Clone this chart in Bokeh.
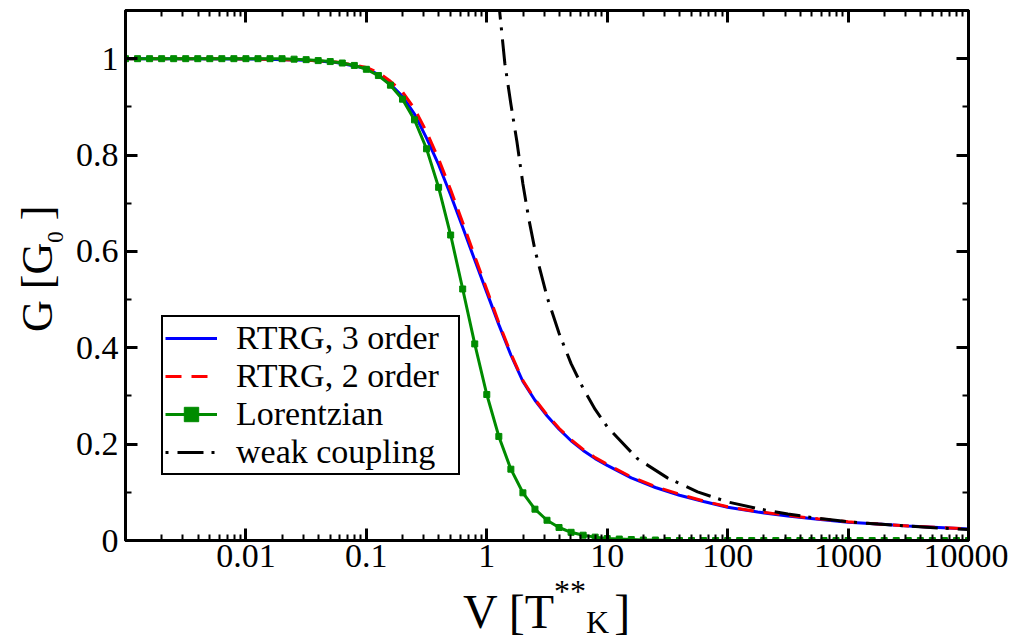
from bokeh.plotting import figure
from bokeh.models import (LogAxis, LinearAxis, FixedTicker, CustomJSTickFormatter,
                          Legend, LegendItem, Range1d, Div)
from bokeh.layouts import row, column
from bokeh.embed import file_html
from bokeh.resources import INLINE

# ---------------- data ----------------
# Lorentzian (green, square markers): log10(V) and G
LOR_LOGV = [-3.0, -2.9, -2.8, -2.7, -2.6, -2.5, -2.4, -2.3, -2.2, -2.1,
            -2.0, -1.9, -1.8, -1.7, -1.6, -1.5, -1.4, -1.3, -1.2, -1.1,
            -1.0, -0.9, -0.8, -0.7, -0.6, -0.5, -0.4, -0.3, -0.2, -0.1,
            0.0, 0.1, 0.2, 0.3, 0.4, 0.5, 0.6, 0.7, 0.8, 0.9,
            1.0, 1.1, 1.2, 1.3, 1.4, 1.5, 1.6, 1.7, 1.8, 1.9,
            2.0, 2.1, 2.2, 2.3, 2.4, 2.5, 2.6, 2.7, 2.8, 2.9,
            3.0, 3.1, 3.2, 3.3, 3.4, 3.5, 3.6, 3.7, 3.8, 3.9, 4.0]
LOR_G = [1.0, 1.0, 1.0, 1.0, 1.0, 1.0, 1.0, 1.0, 1.0, 1.0,
         1.0, 1.0, 1.0, 1.0, 0.999, 0.998, 0.996, 0.994, 0.991, 0.986,
         0.978, 0.965, 0.945, 0.916, 0.873, 0.813, 0.733, 0.634, 0.522, 0.408,
         0.303, 0.216, 0.148, 0.099, 0.065, 0.042, 0.027, 0.017, 0.011, 0.007,
         0.004, 0.003, 0.002, 0.001, 0.001, 0.0, 0.0, 0.0, 0.0, 0.0,
         0.0, 0.0, 0.0, 0.0, 0.0, 0.0, 0.0, 0.0, 0.0, 0.0,
         0.0, 0.0, 0.0, 0.0, 0.0, 0.0, 0.0, 0.0, 0.0, 0.0, 0.0]

# RTRG curves (3rd order: blue solid, 2nd order: red dashed)
RTRG_LOGV = [-3.0, -2.5, -2.0, -1.5, -1.25, -1.0, -0.9, -0.8, -0.7, -0.6,
             -0.5, -0.4, -0.3, -0.2, -0.1, 0.0, 0.1, 0.2, 0.3, 0.4,
             0.5, 0.6, 0.7, 0.8, 0.9, 1.0, 1.2, 1.4, 1.6, 1.8,
             2.0, 2.25, 2.5, 2.75, 3.0, 3.25, 3.5, 3.75, 4.0]
RTRG3_G = [1.0, 1.0, 0.9995, 0.997, 0.992, 0.980, 0.967, 0.947, 0.922, 0.885,
           0.835, 0.780, 0.717, 0.650, 0.582, 0.515, 0.448, 0.385, 0.330, 0.291,
           0.259, 0.231, 0.207, 0.187, 0.170, 0.156, 0.130, 0.110, 0.094, 0.081,
           0.069, 0.059, 0.051, 0.044, 0.038, 0.034, 0.030, 0.027, 0.024]
RTRG2_G = [1.0, 1.0, 0.9995, 0.997, 0.993, 0.982, 0.971, 0.953, 0.931, 0.896,
           0.848, 0.792, 0.728, 0.660, 0.590, 0.521, 0.452, 0.388, 0.332, 0.293,
           0.261, 0.233, 0.209, 0.189, 0.172, 0.158, 0.132, 0.112, 0.096, 0.082,
           0.070, 0.060, 0.052, 0.045, 0.039, 0.034, 0.030, 0.027, 0.024]

# weak coupling (black dash-dot)
WEAK_LOGV = [0.09, 0.106, 0.13, 0.15, 0.2, 0.25, 0.3, 0.35, 0.4, 0.5,
             0.6, 0.7, 0.8, 0.9, 1.0, 1.25, 1.5, 1.75, 2.0, 2.25,
             2.5, 2.75, 3.0, 3.25, 3.5, 3.75, 4.0]
WEAK_G = [1.16, 1.10, 1.04, 0.99, 0.906, 0.828, 0.740, 0.666, 0.603, 0.506,
          0.430, 0.367, 0.316, 0.272, 0.236, 0.170, 0.130, 0.101, 0.080, 0.066,
          0.055, 0.046, 0.039, 0.034, 0.030, 0.026, 0.023]

X_TICKS = [0.01, 0.1, 1, 10, 100, 1000, 10000]
Y_TICKS = [0, 0.2, 0.4, 0.6, 0.8, 1.0]
Y_MINOR = [0.1, 0.3, 0.5, 0.7, 0.9]
LABELS = ["RTRG, 3 order", "RTRG, 2 order", "Lorentzian", "weak coupling"]

def to_v(logs):
    return [10 ** v for v in logs]

X_MINOR = [m * 10.0 ** k for k in range(-3, 4) for m in range(2, 10)]

FONT = "Liberation Serif"
FONT_CSS = "&quot;Liberation Serif&quot;, &quot;Times New Roman&quot;, serif"
BLUE = "#0000ff"
RED = "#ff0000"
GREEN = "#008b00"

p = figure(frame_width=843, frame_height=530,
           x_axis_type="log", x_range=Range1d(0.001, 10000), y_range=Range1d(0, 1.1),
           output_backend="svg", toolbar_location=None,
           min_border_left=59, min_border_right=40, min_border_top=10, min_border_bottom=48)
p.xgrid.visible = False
p.ygrid.visible = False
p.outline_line_color = "black"
p.outline_line_width = 3
p.background_fill_color = "white"
p.border_fill_color = "white"

def style_axis(ax, show_labels):
    ax.axis_line_width = 3
    ax.axis_line_color = "black"
    ax.major_tick_line_width = 3
    ax.minor_tick_line_width = 2
    ax.major_tick_in = 12
    ax.major_tick_out = 0
    ax.minor_tick_in = 6
    ax.minor_tick_out = 0
    ax.major_tick_line_color = "black"
    ax.minor_tick_line_color = "black"
    if show_labels:
        ax.major_label_text_font = FONT
        ax.major_label_text_font_size = "34px"
        ax.major_label_text_color = "black"
    else:
        ax.major_label_text_font_size = "1px"
        ax.major_label_text_alpha = 0.0
        ax.major_label_standoff = 0

xb = p.xaxis[0]
xb.ticker = FixedTicker(ticks=X_TICKS, minor_ticks=X_MINOR)
xb.formatter = CustomJSTickFormatter(code="return tick.toString()")
style_axis(xb, True)
xb.major_label_standoff = 4

yl = p.yaxis[0]
yl.ticker = FixedTicker(ticks=Y_TICKS, minor_ticks=Y_MINOR)
yl.formatter = CustomJSTickFormatter(code="return tick.toString()")
style_axis(yl, True)
yl.major_label_standoff = 7

xa = LogAxis(ticker=FixedTicker(ticks=X_TICKS, minor_ticks=X_MINOR))
style_axis(xa, False)
p.add_layout(xa, "above")
yr = LinearAxis(ticker=FixedTicker(ticks=Y_TICKS, minor_ticks=Y_MINOR))
style_axis(yr, False)
p.add_layout(yr, "right")

r_blue = p.line(to_v(RTRG_LOGV), RTRG3_G, line_color=BLUE, line_width=3)
r_red = p.line(to_v(RTRG_LOGV), RTRG2_G, line_color=RED, line_width=3, line_dash="16 10")
r_green = p.line(to_v(LOR_LOGV), LOR_G, line_color=GREEN, line_width=3)
r_gm = p.scatter(to_v(LOR_LOGV), LOR_G, marker="square", size=6,
                 fill_color=GREEN, line_color=GREEN)
r_weak = p.line(to_v(WEAK_LOGV), WEAK_G, line_color="black", line_width=3,
                line_dash="26 8 3 9", line_dash_offset=34)

legend = Legend(items=[LegendItem(label=LABELS[0], renderers=[r_blue]),
                       LegendItem(label=LABELS[1], renderers=[r_red]),
                       LegendItem(label=LABELS[2], renderers=[r_green, r_gm]),
                       LegendItem(label=LABELS[3], renderers=[r_weak])],
                location=(36, 65))
legend.label_text_font = FONT
legend.label_text_font_size = "34px"
legend.label_text_color = "black"
legend.label_height = 36
legend.glyph_height = 36
legend.glyph_width = 52
legend.label_standoff = 19
legend.label_width = 220
legend.padding = 2
legend.spacing = 0
legend.margin = 0
legend.border_line_color = "black"
legend.border_line_alpha = 1.0
legend.border_line_width = 2
legend.background_fill_color = "white"
legend.background_fill_alpha = 1.0
p.add_layout(legend)

# axis titles as HTML text with sub/superscripts
XLABEL_HTML = (
    '<div style="margin-left:397px; padding-top:0px; line-height:48px; white-space:nowrap; '
    'font-size:48px; color:black; font-family:' + FONT_CSS + ';">'
    'V [T<span style="position:relative; top:-26px; font-size:32px; line-height:32px;">**</span>'
    '<span style="position:relative; top:5px; font-size:32px; line-height:32px;">K</span>'
    '<span style="margin-left:5px;">]</span></div>'
)
YLABEL_HTML = (
    '<div style="position:relative; left:16px; top:332px; transform-origin:0 0; '
    'transform:rotate(-90deg); line-height:44px; white-space:nowrap; width:200px; '
    'font-size:44px; color:black; font-family:' + FONT_CSS + ';">'
    'G [G<span style="position:relative; top:11px; font-size:23px; line-height:23px;">0</span> ]</div>'
)

xdiv = Div(text=XLABEL_HTML, width=942, height=55, margin=0)
ydiv = Div(text=YLABEL_HTML, width=66, height=588, margin=0)

layout = row(ydiv, column(p, xdiv, spacing=0), spacing=0)

open("out.html", "w").write(file_html(layout, INLINE))
